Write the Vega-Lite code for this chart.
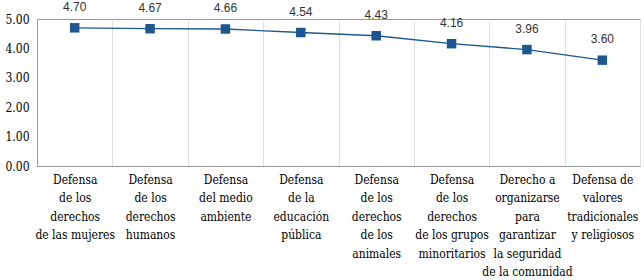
{
  "$schema": "https://vega.github.io/schema/vega-lite/v6.json",
  "autosize": "none",
  "width": 603,
  "height": 147,
  "padding": {"left": 37, "top": 19, "right": 4, "bottom": 114},
  "background": "white",
  "data": {
    "values": [
      {"cat": "Defensa|de los|derechos|de las mujeres", "v": 4.70},
      {"cat": "Defensa|de los|derechos|humanos", "v": 4.67},
      {"cat": "Defensa|del medio|ambiente", "v": 4.66},
      {"cat": "Defensa|de la|educación|pública", "v": 4.54},
      {"cat": "Defensa|de los|derechos|de los|animales", "v": 4.43},
      {"cat": "Defensa|de los|derechos|de los grupos|minoritarios", "v": 4.16},
      {"cat": "Derecho a|organizarse|para|garantizar|la seguridad|de la comunidad", "v": 3.96},
      {"cat": "Defensa de|valores|tradicionales|y religiosos", "v": 3.60}
    ]
  },
  "encoding": {
    "x": {
      "field": "cat", "type": "nominal", "sort": null,
      "scale": {"paddingInner": 0, "paddingOuter": 0},
      "axis": {
        "title": null, "labelAngle": 0, "labelExpr": "datum.value ? split(datum.value, '|') : ''",
        "labelFont": "DejaVu Serif Condensed", "labelFontSize": 12, "labelFontWeight": "normal", "labelColor": "#000",
        "labelLineHeight": 18.5, "labelPadding": 8, "labelBaseline": "top",
        "tickBand": "extent", "ticks": true, "tickColor": "#999", "tickSize": 0,
        "grid": true, "gridColor": "#e0e0e0", "domainColor": "#999",
        "labelLimit": 0
      }
    },
    "y": {
      "field": "v", "type": "quantitative",
      "scale": {"domain": [0, 5], "nice": false},
      "axis": {
        "title": null, "values": [0, 1, 2, 3, 4, 5], "format": ".2f",
        "labelFont": "DejaVu Serif Condensed", "labelFontSize": 12, "labelFontWeight": "normal", "labelColor": "#000",
        "ticks": false, "labelPadding": 8, "grid": false, "domainColor": "#999"
      }
    }
  },
  "layer": [
    {"mark": {"type": "line", "color": "#1d5691", "strokeWidth": 1.3}},
    {"mark": {"type": "point", "shape": "square", "filled": true, "size": 90, "color": "#1d5691", "opacity": 1}},
    {
      "mark": {"type": "text", "dy": -21, "font": "Liberation Sans", "fontSize": 12, "color": "#333"},
      "encoding": {"text": {"field": "v", "type": "quantitative", "format": ".2f"}}
    }
  ],
  "config": {"view": {"stroke": "#999", "strokeWidth": 1}}
}
